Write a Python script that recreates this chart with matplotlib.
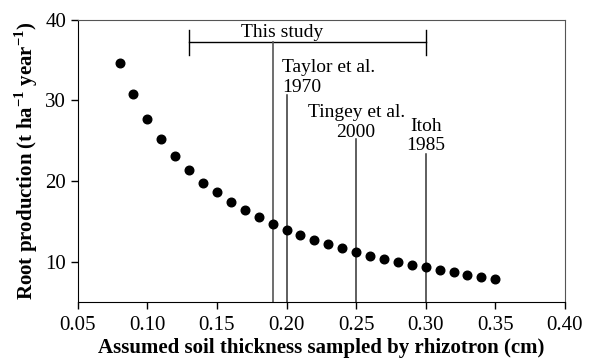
import matplotlib.pyplot as plt

plt.rcParams['font.family'] = 'Liberation Serif'
plt.rcParams['mathtext.fontset'] = 'custom'
plt.rcParams['mathtext.rm'] = 'Liberation Serif'
plt.rcParams['mathtext.bf'] = 'Liberation Serif:bold'

# soil thickness (cm) and root production (t ha-1 yr-1)
thickness = [0.08, 0.09, 0.10, 0.11, 0.12, 0.13, 0.14, 0.15, 0.16, 0.17,
             0.18, 0.19, 0.20, 0.21, 0.22, 0.23, 0.24, 0.25, 0.26, 0.27,
             0.28, 0.29, 0.30, 0.31, 0.32, 0.33, 0.34, 0.35]
production = [34.6, 30.8, 27.7, 25.2, 23.1, 21.4, 19.8, 18.6, 17.4, 16.4,
              15.5, 14.7, 13.9, 13.3, 12.7, 12.2, 11.7, 11.2, 10.7, 10.3,
              10.0, 9.6, 9.3, 9.0, 8.7, 8.4, 8.1, 7.9]

# reference studies: x position, label, top of line, label baseline (last line)
refs_x = [0.20, 0.25, 0.30]
refs_label = ['Taylor et al.\n1970', 'Tingey et al.\n2000', 'Itoh\n1985']
refs_top = [30.7, 25.2, 23.3]
refs_text_x = [0.197, 0.25, 0.30]
refs_text_y = [31.1, 25.5, 23.8]
refs_ha = ['left', 'center', 'center']

study_range = [0.13, 0.30]
study_mid = 0.19

fig = plt.figure(figsize=(5.94, 3.62), dpi=100)
ax = fig.add_axes([0.131, 0.166, 0.82, 0.779])

ax.plot(thickness, production, 'o', color='black', markersize=6.2, zorder=3)

# this study range bar
ax.plot(study_range, [37.3, 37.3], color='black', lw=1)
for xx in study_range:
    ax.plot([xx, xx], [35.7, 38.7], color='black', lw=1)
ax.plot([study_mid, study_mid], [5, 37.3], color='#555555', lw=1.2)
ax.text(0.197, 37.9, 'This study', ha='center', va='baseline', fontsize=14)

for xx, top in zip(refs_x, refs_top):
    ax.plot([xx, xx], [5, top], color='#333333', lw=1.1)
for xx, yy, lab, h in zip(refs_text_x, refs_text_y, refs_label, refs_ha):
    ax.text(xx, yy, lab, ha=h, va='baseline', fontsize=14, linespacing=1.2,
            multialignment=h)

ax.set_xlim(0.05, 0.40)
ax.set_ylim(5, 40)
ax.set_xticks([0.05, 0.10, 0.15, 0.20, 0.25, 0.30, 0.35, 0.40])
ax.set_xticklabels(['0.05', '0.10', '0.15', '0.20', '0.25', '0.30', '0.35', '0.40'])
ax.set_yticks([10, 20, 30, 40])
ax.tick_params(labelsize=15, length=5, width=1, direction='out')
ax.tick_params(axis='x', pad=5)
ax.spines['top'].set_color('#555555')
ax.spines['right'].set_color('#555555')

ax.set_xlabel('Assumed soil thickness sampled by rhizotron (cm)', fontsize=15, fontweight='bold', labelpad=2)
ax.set_ylabel(r'Root production (t ha$^{\mathbf{-1}}$ year$^{\mathbf{-1}}$)', fontsize=15, fontweight='bold')

fig.savefig('out.png', dpi=100)
